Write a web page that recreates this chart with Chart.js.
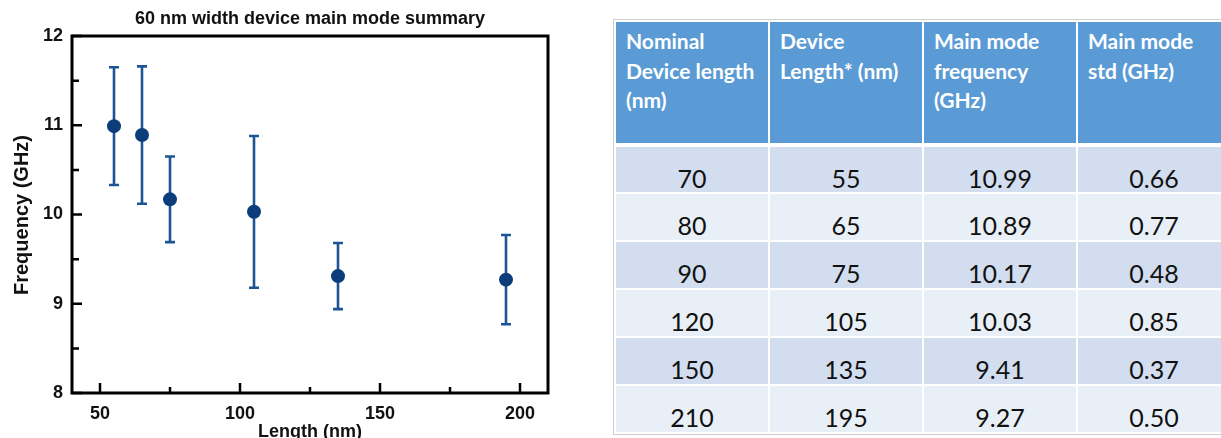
<!DOCTYPE html>
<html>
<head>
<meta charset="utf-8">
<script src="https://cdn.jsdelivr.net/npm/chart.js@4.4.1/dist/chart.umd.min.js"></script>
<style>
  html, body { margin: 0; padding: 0; background: #fff; overflow: hidden; }
  body { width: 1221px; height: 438px; position: relative; }
  #plotWrap { position: absolute; left: 0; top: 0; width: 580px; height: 438px; }
  #tableWrap { position: absolute; left: 614px; top: 20px; width: 640px; }
  #summary {
    border-collapse: collapse; table-layout: fixed; width: 616px;
    outline: 1px solid #cfcfcf;
    font-family: Lato, "Open Sans", sans-serif;
  }
  #summary col { width: 154px; }
  #summary th, #summary td { border: 2px solid #fff; padding: 0; box-sizing: border-box; }
  #summary thead tr { height: 124px; }
  #summary tbody tr { height: 48px; }
  #summary th {
    background: #5b9bd5; color: #fff; font-weight: bold; font-size: 21px;
    line-height: 29.5px; text-align: left; vertical-align: top;
    padding: 4px 0 0 10px; border-bottom: 4px solid #fff;
  }
  #summary td {
    font-size: 25px; line-height: 28px; color: #111; text-align: center;
    vertical-align: top; padding: 17px 0 0 0;
  }
  #summary tbody tr:nth-child(odd) td { background: #d2deef; }
  #summary tbody tr:nth-child(even) td { background: #e9eff7; }
</style>
</head>
<body>
<div id="plotWrap"><canvas id="plot" width="580" height="438"></canvas></div>
<div id="tableWrap">
<table id="summary">
  <colgroup><col><col><col><col></colgroup>
  <thead><tr id="headRow"></tr></thead>
  <tbody id="bodyRows"></tbody>
</table>
</div>
<script>
// Device lengths (nm) and measured main-mode statistics
const nominalLength = [70, 80, 90, 120, 150, 210];
const deviceLength = [55, 65, 75, 105, 135, 195];
const plottedFreq = [10.99, 10.89, 10.17, 10.03, 9.31, 9.27];
const tableFreq = ['10.99', '10.89', '10.17', '10.03', '9.41', '9.27'];
const freqStd = [0.66, 0.77, 0.48, 0.85, 0.37, 0.50];

const headerLines = [
  ['Nominal', 'Device length', '(nm)'],
  ['Device', 'Length* (nm)'],
  ['Main mode', 'frequency', '(GHz)'],
  ['Main mode', 'std (GHz)']
];

const xTickValues = [50, 100, 150, 200];
const xMinorTicks = [75, 125, 175];
const yTickValues = [8, 9, 10, 11, 12];
const yMinorTicks = [8.5, 9.5, 10.5, 11.5];

const chartTitle = '60 nm width device main mode summary';
const xTitle = 'Length (nm)';
const yTitle = 'Frequency (GHz)';

// ---- summary table ----
const headRow = document.getElementById('headRow');
headerLines.forEach(lines => {
  const th = document.createElement('th');
  th.innerHTML = lines.join('<br>');
  headRow.appendChild(th);
});
const body = document.getElementById('bodyRows');
nominalLength.forEach((n, i) => {
  const tr = document.createElement('tr');
  [String(n), String(deviceLength[i]), tableFreq[i], freqStd[i].toFixed(2)].forEach(t => {
    const td = document.createElement('td');
    td.textContent = t;
    tr.appendChild(td);
  });
  body.appendChild(tr);
});

// ---- plot ----
const FONT = '"Liberation Sans", Arial, sans-serif';
const BAR_COLOR = '#1c5595';
const DOT_COLOR = '#0c3d7b';

const errorBars = {
  id: 'errorBars',
  beforeDatasetsDraw(chart) {
    const { ctx, scales: { x, y } } = chart;
    ctx.save();
    ctx.strokeStyle = BAR_COLOR;
    ctx.lineWidth = 2.6;
    deviceLength.forEach((len, i) => {
      const px = x.getPixelForValue(len);
      const top = y.getPixelForValue(plottedFreq[i] + freqStd[i]);
      const bot = y.getPixelForValue(plottedFreq[i] - freqStd[i]);
      ctx.beginPath();
      ctx.moveTo(px, top); ctx.lineTo(px, bot);
      ctx.moveTo(px - 5, top); ctx.lineTo(px + 5, top);
      ctx.moveTo(px - 5, bot); ctx.lineTo(px + 5, bot);
      ctx.stroke();
    });
    ctx.restore();
  }
};

const frame = {
  id: 'frame',
  afterDraw(chart) {
    const { ctx, chartArea: a, scales: { x, y } } = chart;
    ctx.save();
    ctx.strokeStyle = '#000';
    ctx.lineWidth = 3;
    ctx.strokeRect(a.left, a.top, a.right - a.left, a.bottom - a.top);
    ctx.lineWidth = 2.5;
    ctx.beginPath();
    xTickValues.forEach(v => { const p = x.getPixelForValue(v); ctx.moveTo(p, a.bottom); ctx.lineTo(p, a.bottom - 10); });
    xMinorTicks.forEach(v => { const p = x.getPixelForValue(v); ctx.moveTo(p, a.bottom); ctx.lineTo(p, a.bottom - 6); });
    yTickValues.forEach(v => { const p = y.getPixelForValue(v); ctx.moveTo(a.left, p); ctx.lineTo(a.left + 10, p); });
    yMinorTicks.forEach(v => { const p = y.getPixelForValue(v); ctx.moveTo(a.left, p); ctx.lineTo(a.left + 7, p); });
    ctx.stroke();

    ctx.fillStyle = '#111';
    ctx.textAlign = 'center';
    ctx.textBaseline = 'middle';
    ctx.font = 'bold 18px ' + FONT;
    ctx.fillText(chartTitle, (a.left + a.right) / 2, 19);
    ctx.font = 'bold 18px ' + FONT;
    ctx.fillText(xTitle, (a.left + a.right) / 2, 432);
    ctx.translate(22, 215);
    ctx.rotate(-Math.PI / 2);
    ctx.font = 'bold 20px ' + FONT;
    ctx.fillText(yTitle, 0, 0);
    ctx.restore();
  }
};

new Chart(document.getElementById('plot'), {
  type: 'scatter',
  data: {
    datasets: [{
      data: deviceLength.map((len, i) => ({ x: len, y: plottedFreq[i] })),
      backgroundColor: DOT_COLOR,
      borderColor: DOT_COLOR,
      pointRadius: 7,
      pointHoverRadius: 7,
      borderWidth: 0
    }]
  },
  options: {
    responsive: false,
    animation: false,
    events: [],
    layout: { padding: { top: 36, right: 32, left: 0, bottom: 0 } },
    plugins: { legend: { display: false }, tooltip: { enabled: false }, title: { display: false } },
    scales: {
      x: {
        type: 'linear', min: 40, max: 210,
        grid: { display: false, drawTicks: false },
        border: { display: false },
        afterFit(s) { s.height = 45; },
        afterBuildTicks(s) { s.ticks = xTickValues.map(v => ({ value: v })); },
        ticks: { padding: 10, color: '#111', font: { family: FONT, size: 18, weight: 'bold' } }
      },
      y: {
        type: 'linear', min: 8, max: 12,
        grid: { display: false, drawTicks: false },
        border: { display: false },
        afterFit(s) { s.width = 72; },
        afterBuildTicks(s) { s.ticks = yTickValues.map(v => ({ value: v })); },
        ticks: { padding: 9, color: '#111', font: { family: FONT, size: 18, weight: 'bold' } }
      }
    }
  },
  plugins: [errorBars, frame]
});
</script>
</body>
</html>
